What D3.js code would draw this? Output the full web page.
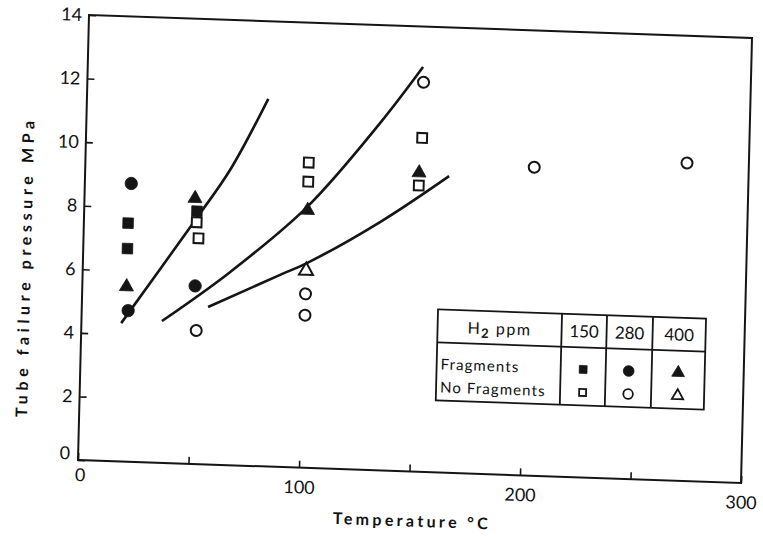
<!DOCTYPE html>
<html><head><meta charset="utf-8">
<script src="https://cdn.jsdelivr.net/npm/d3@7"></script>
<style>
body{margin:0;background:#fff}
svg{display:block}
text{font-family:Lato,"DejaVu Sans",sans-serif;fill:#111}
</style>
</head><body>
<svg id="c" width="763" height="536"></svg>
<script>
// ---- data (temperature °C, tube failure pressure MPa) ----
const xTicks = [0, 50, 100, 150, 200, 250, 300];
const xTickLabels = ["0", "", "100", "", "200", "", "300"];
const yTicks = [0, 2, 4, 6, 8, 10, 12, 14];
const yTickLabels = ["0", "2", "4", "6", "8", "10", "12", "14"];

const frag150   = [[20, 7.5], [20, 6.7], [51, 7.95]];
const frag280   = [[21, 8.75], [21, 4.75], [51, 5.6]];
const frag400   = [[20, 5.5], [50, 8.35], [101, 8.1], [151, 9.4]];
const noFrag150 = [[51, 7.6], [52, 7.1], [101, 9.6], [101, 9.0], [152, 10.5], [151, 9.0]];
const noFrag280 = [[52, 4.2], [101, 5.47], [101, 4.8], [152, 12.25], [203, 9.7], [272, 10.0]];
const noFrag400 = [[101, 6.2]];

const curveA = [[18, 4.35], [51, 7.74], [65.5, 9.28], [82, 11.56]];
const curveB = [[36.4, 4.46], [66.6, 6.07], [100.7, 8.2], [132.8, 10.92], [151.6, 12.73]];
const curveC = [[57.1, 4.95], [89.3, 6.04], [101.3, 6.44], [133.9, 7.81], [164.6, 9.33]];

const legendCols = ["150", "280", "400"];
const legendRows = ["Fragments", "No Fragments"];

// ---- layout ----
const W = 663, H = 445;
const svg = d3.select("#c");
const g = svg.append("g")
  .attr("transform", `matrix(1,${23/663},${-11/445},1,89,15)`);

const x = d3.scaleLinear().domain([0, 300]).range([0, W]);
const y = d3.scaleLinear().domain([0, 14]).range([H, 0]);
const ink = "#151515";

// frame
g.append("rect").attr("x", 0).attr("y", 0).attr("width", W).attr("height", H)
  .attr("fill", "none").attr("stroke", ink).attr("stroke-width", 2);

// axes
const yAxis = d3.axisLeft(y).tickValues(yTicks)
  .tickFormat((d, i) => yTickLabels[i]).tickSizeInner(-7).tickSizeOuter(0).tickPadding(7);
const ya = g.append("g").call(yAxis);
ya.select(".domain").remove();
ya.selectAll("line").attr("stroke", ink).attr("stroke-width", 1.6);
ya.selectAll("text").attr("font-size", 18).attr("fill", ink).style("font-family", "Lato,sans-serif");
ya.selectAll(".tick").filter(d => d === 0).select("text").attr("x", -8).attr("dy", "-0.05em");

const xAxis = d3.axisBottom(x).tickValues(xTicks)
  .tickFormat((d, i) => xTickLabels[i]).tickSizeInner(-7).tickSizeOuter(0).tickPadding(13);
const xa = g.append("g").attr("transform", `translate(0,${H})`).call(xAxis);
xa.select(".domain").remove();
xa.selectAll("line").attr("stroke", ink).attr("stroke-width", 1.6);
xa.selectAll("text").attr("font-size", 18).attr("fill", ink).style("font-family", "Lato,sans-serif");
xa.selectAll(".tick").filter(d => d === 0).select("text").attr("dy", "0.45em").attr("x", 2);

// axis titles
g.append("text").attr("x", 256).attr("y", 500).attr("font-size", 16).attr("font-weight", 700)
  .attr("textLength", 155).attr("lengthAdjust", "spacing")
  .text("Temperature  °C");
g.append("text").attr("transform", "translate(-52,256) rotate(-90)")
  .attr("text-anchor", "middle").attr("font-size", 16).attr("font-weight", 700)
  .attr("textLength", 296).attr("lengthAdjust", "spacing")
  .text("Tube  failure  pressure  MPa");

// curves
const line = d3.line().x(d => x(d[0])).y(d => y(d[1])).curve(d3.curveCatmullRom.alpha(0.5));
[curveA, curveB, curveC].forEach(c => {
  g.append("path").datum(c).attr("d", line)
    .attr("fill", "none").attr("stroke", ink).attr("stroke-width", 2.6);
});

// markers
const sym = {
  square: d3.symbol().type(d3.symbolSquare),
  circle: d3.symbol().type(d3.symbolCircle),
  triangle: d3.symbol().type(d3.symbolTriangle)
};
const series = [
  {data: frag150,   shape: "square",   filled: true,  size: 110},
  {data: frag280,   shape: "circle",   filled: true,  size: 120},
  {data: frag400,   shape: "triangle", filled: true,  size: 85},
  {data: noFrag150, shape: "square",   filled: false, size: 95},
  {data: noFrag280, shape: "circle",   filled: false, size: 95},
  {data: noFrag400, shape: "triangle", filled: false, size: 85}
];
series.forEach(s => {
  g.append("g").selectAll("path").data(s.data).join("path")
    .attr("transform", d => `translate(${x(d[0])},${y(d[1])})`)
    .attr("d", sym[s.shape].size(s.size)())
    .attr("fill", s.filled ? ink : "#fff")
    .attr("stroke", ink).attr("stroke-width", s.filled ? 0.8 : 2);
});

// legend table
const L = {x0: 356, x1: 624, y0: 282, yh: 315, y1: 373, cols: [480, 525, 571]};
const lg = g.append("g");
lg.append("rect").attr("x", L.x0).attr("y", L.y0).attr("width", L.x1 - L.x0).attr("height", L.y1 - L.y0)
  .attr("fill", "#fff").attr("stroke", ink).attr("stroke-width", 1.8);
lg.append("line").attr("x1", L.x0).attr("x2", L.x1).attr("y1", L.yh).attr("y2", L.yh)
  .attr("stroke", ink).attr("stroke-width", 1.8);
L.cols.forEach(cx => lg.append("line").attr("x1", cx).attr("x2", cx).attr("y1", L.y0).attr("y2", L.y1)
  .attr("stroke", ink).attr("stroke-width", 1.8));

const hdr = lg.append("text").attr("x", 418).attr("y", 305).attr("text-anchor", "middle")
  .attr("font-size", 16).attr("letter-spacing", 1.5);
hdr.append("tspan").text("H");
hdr.append("tspan").attr("dy", 4).attr("font-size", 13).attr("font-weight", 700).text("2");
hdr.append("tspan").attr("dy", -4).text(" ppm");

const colEdges = [L.cols[0], L.cols[1], L.cols[2], L.x1];
const colCenters = legendCols.map((c, i) => (colEdges[i] + colEdges[i + 1]) / 2);
legendCols.forEach((c, i) => {
  lg.append("text").attr("x", colCenters[i]).attr("y", 305).attr("text-anchor", "middle")
    .attr("font-size", 17).text(c);
});
const rowY = [337, 360];
legendRows.forEach((r, i) => {
  lg.append("text").attr("x", 360).attr("y", rowY[i] + 5).attr("font-size", 15)
    .attr("letter-spacing", 1.1).text(r);
});
const legShapes = ["square", "circle", "triangle"];
const legSizes = [60, 90, 70];
legShapes.forEach((sh, i) => {
  [true, false].forEach((filled, j) => {
    lg.append("path")
      .attr("transform", `translate(${colCenters[i]},${rowY[j]})`)
      .attr("d", sym[sh].size(filled ? legSizes[i] : legSizes[i] * 0.8)())
      .attr("fill", filled ? ink : "#fff")
      .attr("stroke", ink).attr("stroke-width", filled ? 0.8 : 1.8);
  });
});
</script>
</body></html>
